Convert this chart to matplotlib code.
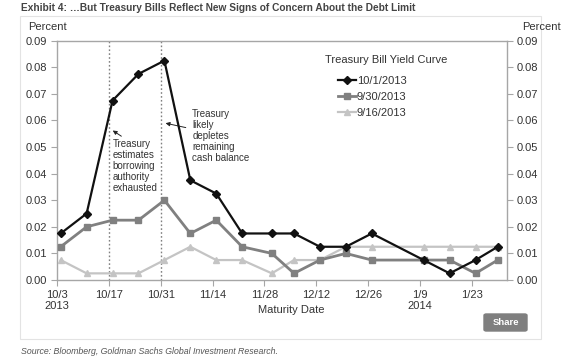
import matplotlib
matplotlib.use("Agg")
import matplotlib.pyplot as plt
from matplotlib.patches import FancyBboxPatch, Rectangle
from datetime import datetime

plt.rcParams['font.family'] = ['Liberation Sans', 'DejaVu Sans']

# maturity dates of the bills
maturities = ['2013-10-04', '2013-10-11', '2013-10-18', '2013-10-25', '2013-11-01',
              '2013-11-08', '2013-11-15', '2013-11-22', '2013-11-30', '2013-12-06',
              '2013-12-13', '2013-12-20', '2013-12-27', '2014-01-10', '2014-01-17',
              '2014-01-24', '2014-01-30']

curve_oct1 = [0.0175, 0.025, 0.0675, 0.0775, 0.0825, 0.0375, 0.0325, 0.0175, 0.0175,
              0.0175, 0.0125, 0.0125, 0.0175, 0.0075, 0.0025, 0.0075, 0.0125]
curve_sep30 = [0.0125, 0.02, 0.0225, 0.0225, 0.03, 0.0175, 0.0225, 0.0125, 0.01,
               0.0025, 0.0075, 0.01, 0.0075, 0.0075, 0.0075, 0.0025, 0.0075]
curve_sep16 = [0.0075, 0.0025, 0.0025, 0.0025, 0.0075, 0.0125, 0.0075, 0.0075, 0.0025,
               0.0075, 0.0075, 0.0125, 0.0125, 0.0125, 0.0125, 0.0125, 0.0125]

tick_dates = ['2013-10-03', '2013-10-17', '2013-10-31', '2013-11-14', '2013-11-28',
              '2013-12-12', '2013-12-26', '2014-01-09', '2014-01-23']
tick_labels = ['10/3\n2013', '10/17', '10/31', '11/14', '11/28', '12/12', '12/26',
               '1/9\n2014', '1/23']
event_dates = ['2013-10-17', '2013-10-31']

W, H = 570, 362
TXT = '#333333'
AX_GRAY = '#a6a6a6'


def d(s):
    return datetime.strptime(s, '%Y-%m-%d')


def fx(px):
    return px / W


def fy(py):
    return 1 - py / H


fig = plt.figure(figsize=(W / 100, H / 100), dpi=100)
fig.patch.set_facecolor('white')

# light frame around the exhibit
fig.patches.append(Rectangle((fx(20), fy(339)), fx(541) - fx(20), fy(16) - fy(339),
                             transform=fig.transFigure, fill=False,
                             edgecolor='#e3e3e3', linewidth=0.8))

ax = fig.add_axes([fx(57), fy(280), fx(507) - fx(57), fy(40.7) - fy(280)])

x = [d(s) for s in maturities]
ax.plot(x, curve_oct1, color='#111111', lw=1.6, marker='D', ms=3.6, label='10/1/2013', zorder=5)
ax.plot(x, curve_sep30, color='#808080', lw=2.0, marker='s', ms=5, label='9/30/2013', zorder=4)
ax.plot(x, curve_sep16, color='#c4c4c4', lw=1.6, marker='^', ms=5, label='9/16/2013', zorder=3)

for e in event_dates:
    ax.axvline(d(e), color='#808080', lw=1.0, ls=(0, (1.2, 1.6)), zorder=2)

ax.set_xlim(d('2013-10-03'), datetime(2014, 2, 1, 12))
ax.set_ylim(0, 0.09)
ax.set_yticks([i / 100 for i in range(10)])
ax.set_yticklabels(['%.2f' % (i / 100) for i in range(10)])
ax.set_xticks([d(s) for s in tick_dates])
ax.set_xticklabels(tick_labels)

for s in ax.spines.values():
    s.set_color(AX_GRAY)
    s.set_linewidth(1.0)
ax.tick_params(axis='both', colors=AX_GRAY, labelcolor=TXT, labelsize=8, length=4, width=0.8)
ax.tick_params(axis='y', right=True, labelright=True, pad=3)
ax.tick_params(axis='x', pad=3)
for lab in ax.get_xticklabels():
    lab.set_linespacing(1.15)

fig.text(fx(291), fy(310), 'Maturity Date', fontsize=8, color=TXT, ha='center', va='center')

fig.text(fx(28), fy(27), 'Percent', fontsize=8, color=TXT, ha='left', va='center')
fig.text(fx(561), fy(27), 'Percent', fontsize=8, color=TXT, ha='right', va='center')

fig.text(fx(386), fy(60), 'Treasury Bill Yield Curve', fontsize=8, color=TXT,
         ha='center', va='center')
leg = ax.legend(loc='upper left', bbox_to_anchor=(fx(330), fy(68)),
                bbox_transform=fig.transFigure, frameon=False, fontsize=8,
                handlelength=1.6, handletextpad=0.1, labelspacing=0.55,
                borderpad=0.2)
for t in leg.get_texts():
    t.set_color(TXT)

# annotations
ax.annotate('', xy=(datetime(2013, 10, 17, 10), 0.0568), xytext=(datetime(2013, 10, 21), 0.0535),
            arrowprops=dict(arrowstyle='-|>', color='#222222', lw=0.7, mutation_scale=6))
ax.text(datetime(2013, 10, 18), 0.0532, 'Treasury\nestimates\nborrowing\nauthority\nexhausted',
        fontsize=7, color=TXT, ha='left', va='top', linespacing=1.15)

ax.annotate('', xy=(datetime(2013, 10, 31, 14), 0.0592), xytext=(datetime(2013, 11, 7, 12), 0.0571),
            arrowprops=dict(arrowstyle='-|>', color='#222222', lw=0.7, mutation_scale=6))
ax.text(datetime(2013, 11, 8, 12), 0.0645, 'Treasury\nlikely\ndepletes\nremaining\ncash balance',
        fontsize=7, color=TXT, ha='left', va='top', linespacing=1.15)

fig.text(fx(21), fy(8), 'Exhibit 4: \u2026But Treasury Bills Reflect New Signs of Concern About the Debt Limit',
         fontsize=7.3, fontweight='bold', color='#444444', ha='left', va='center')

fig.text(fx(21), fy(351), 'Source: Bloomberg, Goldman Sachs Global Investment Research.',
         fontsize=6.3, style='italic', color='#555555', ha='left', va='center')

# "Share" button
fig.patches.append(FancyBboxPatch((fx(484), fy(331)), fx(527) - fx(484), fy(314) - fy(331),
                                  boxstyle='round,pad=0,rounding_size=0.004',
                                  transform=fig.transFigure, facecolor='#7f7f7f',
                                  edgecolor='#7f7f7f'))
fig.text(fx(505.5), fy(322.5), 'Share', fontsize=6.8, fontweight='bold', color='white',
         ha='center', va='center')

fig.savefig('out.png', dpi=100, facecolor='white')
